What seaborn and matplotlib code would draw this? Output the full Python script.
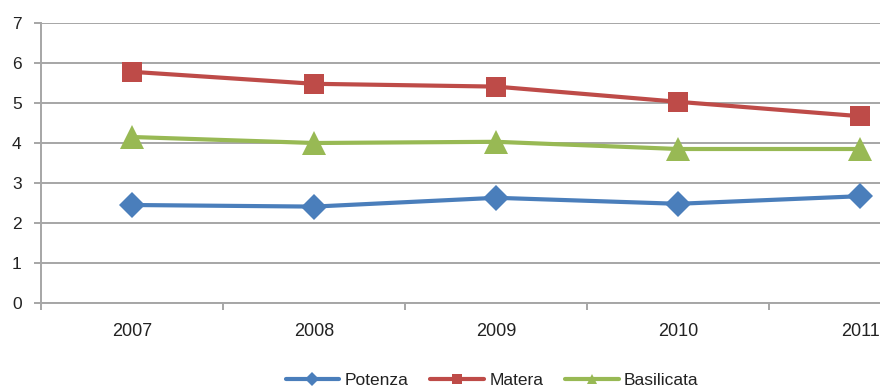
import matplotlib
matplotlib.use("Agg")
import matplotlib.pyplot as plt
import seaborn as sns
import pandas as pd
from matplotlib.ticker import FixedLocator

years = ["2007", "2008", "2009", "2010", "2011"]
potenza = [2.45, 2.41, 2.63, 2.48, 2.67]
matera = [5.78, 5.48, 5.41, 5.03, 4.67]
basilicata = [4.15, 4.00, 4.03, 3.85, 3.85]
series_names = ["Potenza", "Matera", "Basilicata"]

frames = []
for name, vals in zip(series_names, [potenza, matera, basilicata]):
    frames.append(pd.DataFrame({"anno": years, "valore": vals, "area": name}))
df = pd.concat(frames, ignore_index=True)

colors = {"Potenza": "#4A7EBB", "Matera": "#BE4B48", "Basilicata": "#98B954"}
markers = {"Potenza": "D", "Matera": "s", "Basilicata": "^"}
msizes = {"Potenza": 13, "Matera": 15, "Basilicata": 17}

sns.set_style("white")
plt.rcParams["font.family"] = ["Liberation Sans", "DejaVu Sans"]

fig = plt.figure(figsize=(8.8, 3.86), dpi=100)
ax = fig.add_axes([41 / 880, 83 / 386, 910 / 880, 280 / 386])

for name in series_names:
    sns.lineplot(data=df[df["area"] == name], x="anno", y="valore",
                 color=colors[name], marker=markers[name], linewidth=3,
                 markersize=msizes[name], markeredgewidth=0, sort=False,
                 ax=ax, legend=False)

ax.set_xlim(-0.5, 4.5)
ax.set_ylim(0, 7)
ax.set_yticks(range(0, 8))
ax.set_xticks(range(len(years)))
ax.set_xticklabels(years)
ax.xaxis.set_minor_locator(FixedLocator([i + 0.5 for i in range(-1, len(years))]))
ax.set_xlabel("")
ax.set_ylabel("")

ax.grid(axis="y", color="#A6A6A6", linewidth=1.4)
ax.set_axisbelow(True)
for side in ["top", "right"]:
    ax.spines[side].set_visible(False)
for side in ["left", "bottom"]:
    ax.spines[side].set_color("#A6A6A6")
    ax.spines[side].set_linewidth(1.4)

ax.tick_params(axis="y", which="major", left=True, length=5, width=1.4,
               color="#A6A6A6", labelsize=12.5, labelcolor="#222222", pad=9)
ax.tick_params(axis="x", which="major", bottom=False, labelsize=13,
               labelcolor="#222222", pad=11)
ax.tick_params(axis="x", which="minor", bottom=True, length=5, width=1.4,
               color="#A6A6A6")

handles = [plt.Line2D([], [], color=colors[n], marker=markers[n], linewidth=3,
                      markersize=7, markeredgewidth=0) for n in series_names]
fig.legend(handles, series_names, loc="center", bbox_to_anchor=(492 / 880, 6 / 386),
           ncol=3, frameon=False, fontsize=12.5, handlelength=3.1, columnspacing=1.25,
           handletextpad=0.3, labelcolor="#222222")

fig.savefig("out.png", dpi=100)
